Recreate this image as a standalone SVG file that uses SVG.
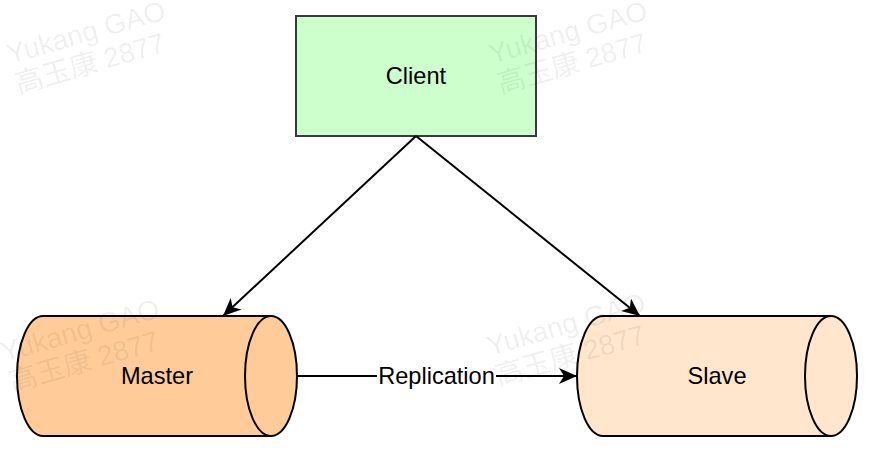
<svg xmlns="http://www.w3.org/2000/svg" width="874" height="454" viewBox="0 0 874 454">
  <style>
    .lbl { font-family: "Liberation Sans", Arial, Helvetica, sans-serif; font-size: 23.6px; fill: #000; text-anchor: middle; }
    .wm { font-family: "Liberation Sans", "Noto Sans CJK SC", sans-serif; font-size: 28px; fill: #000; fill-opacity: 0.07; }
    .cyl { stroke: #000; stroke-width: 2; }
    .edge { fill: none; stroke: #000; stroke-width: 2; marker-end: url(#arrow); }
  </style>
  <defs>
    <marker id="arrow" markerUnits="userSpaceOnUse" viewBox="0 0 18 16" refX="18" refY="8" markerWidth="18" markerHeight="16" orient="auto">
      <path d="M0,0 L18,8 L0,16 L5,8 Z" fill="#000"/>
    </marker>
    <g id="wmark">
      <text class="wm" x="0" y="0">Yukang GAO</text>
      <text class="wm" x="0" y="31">高玉康 2877</text>
    </g>
  </defs>
  <rect width="874" height="454" fill="#fff"/>

  <g id="client">
    <rect x="296" y="16" width="240" height="120" fill="#ccffcc" stroke="#36393d" stroke-width="2"/>
    <text class="lbl" x="416" y="84">Client</text>
  </g>

  <g id="master">
    <path class="cyl" fill="#ffcc99" d="M43,316 H271 A26,60 0 0 1 271,436 H43 A26,60 0 0 1 43,316 Z"/>
    <path class="cyl" fill="none" d="M271,316 A26,60 0 0 0 271,436"/>
    <text class="lbl" x="157" y="384">Master</text>
  </g>

  <g id="slave">
    <path class="cyl" fill="#ffe6cc" d="M603,316 H831 A26,60 0 0 1 831,436 H603 A26,60 0 0 1 603,316 Z"/>
    <path class="cyl" fill="none" d="M831,316 A26,60 0 0 0 831,436"/>
    <text class="lbl" x="717" y="384">Slave</text>
  </g>

  <g id="connectors">
    <path class="edge" d="M416,136 L223,316"/>
    <path class="edge" d="M416,136 L640,316"/>
    <path class="edge" d="M297,376 L577,376"/>
    <rect x="377" y="363" width="119" height="26" fill="#fff"/>
    <text class="lbl" x="436.5" y="384">Replication</text>
  </g>

  <g id="watermarks">
    <use href="#wmark" transform="translate(10,64) rotate(-16)"/>
    <use href="#wmark" transform="translate(492,64) rotate(-16)"/>
    <use href="#wmark" transform="translate(4,362) rotate(-16)"/>
    <use href="#wmark" transform="translate(490,356) rotate(-16)"/>
  </g>
</svg>
